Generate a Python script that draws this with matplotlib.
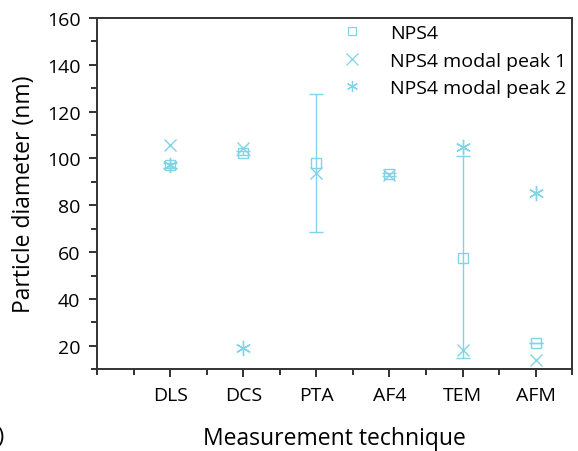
import matplotlib
matplotlib.use('Agg')
import matplotlib.pyplot as plt
from matplotlib.ticker import MultipleLocator
from matplotlib.lines import Line2D

plt.rcParams['font.family'] = ['Open Sans', 'DejaVu Sans']

# Measurement techniques (x positions 1..6)
techniques = ['DLS', 'DCS', 'PTA', 'AF4', 'TEM', 'AFM']

# NPS4 mean diameter with error bar (nm)
nps4 = [97, 102.3, 98.2, 93.2, 57.6, 21]
nps4_err_low = [1.2, 1.0, 29.6, 0.8, 43.0, 0]
nps4_err_high = [1.2, 1.0, 29.4, 0.8, 43.6, 0]

# modal peaks (None = not measured)
peak1 = [105.9, 104.3, 94.0, 93.0, 18.0, 14.0]
peak2 = [97.0, 19.0, None, None, 104.9, 85.2]

col = '#80d4e6'
star = (6, 2, 0)
pos = list(range(1, len(techniques) + 1))

fig = plt.figure(figsize=(5.78, 4.52), dpi=100)
ax = fig.add_axes([0.168, 0.181, 0.822, 0.777])

ax.errorbar(pos, nps4, yerr=[nps4_err_low, nps4_err_high], fmt='s', color=col,
            mfc='none', mec=col, ms=7, mew=1.0, elinewidth=1.0, capsize=5,
            capthick=1.0)
ax.plot(pos, peak1, 'x', color=col, ms=9, mew=1.0)
p2x = [p for p, v in zip(pos, peak2) if v is not None]
p2y = [v for v in peak2 if v is not None]
ax.plot(p2x, p2y, linestyle='none', marker=star, color=col, ms=11, mew=1.0)

ax.set_xlim(0, 6.5)
ax.set_xticks(pos)
ax.set_xticklabels(techniques)
ax.xaxis.set_minor_locator(MultipleLocator(0.5))
ax.set_yticks(range(20, 161, 20))
ax.yaxis.set_minor_locator(MultipleLocator(10))
ax.set_ylim(10, 160)

ax.tick_params(which='both', direction='out', top=False, right=False, width=1.3,
               color='#222222', labelsize=14, pad=6)
ax.tick_params(which='major', length=6)
ax.tick_params(which='minor', length=4)
for s in ax.spines.values():
    s.set_linewidth(1.4)
    s.set_color('#333333')

ax.set_xlabel('Measurement technique', fontsize=16.5, labelpad=16)
ax.set_ylabel('Particle diameter (nm)', fontsize=16.5, labelpad=8)

handles = [
    Line2D([], [], linestyle='none', marker='s', mfc='none', mec=col, ms=6, mew=0.9),
    Line2D([], [], linestyle='none', marker='x', color=col, ms=8, mew=0.9),
    Line2D([], [], linestyle='none', marker=star, color=col, ms=8, mew=0.9),
]
labels = ['NPS4', 'NPS4 modal peak 1', 'NPS4 modal peak 2']
ax.legend(handles, labels, loc='upper right', frameon=False, fontsize=14,
          numpoints=1, handlelength=1.5, handletextpad=1.2, labelspacing=0.5,
          borderaxespad=0.0, borderpad=0.3)

fig.text(0.008, 0.02, 'b)', fontsize=16, ha='right', va='baseline')

fig.savefig('out.png', dpi=100)
